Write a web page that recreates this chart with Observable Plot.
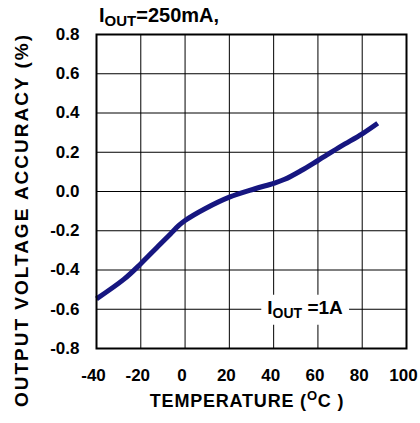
<!DOCTYPE html>
<html>
<head>
<meta charset="utf-8">
<script src="https://cdn.jsdelivr.net/npm/d3@7"></script>
<script src="https://cdn.jsdelivr.net/npm/@observablehq/plot@0.6"></script>
<style>
  html, body { margin: 0; padding: 0; background: #fff; }
  svg { display: block; }
</style>
</head>
<body>
<div id="chart"></div>
<script>
const temps  = [-40, -27.7, -20, -12.6, -6.6, -2.8, 0, 9, 20, 31.6, 40, 45, 52.5, 60, 70.5, 80, 87];
const values = [-0.547, -0.448, -0.368, -0.284, -0.216, -0.173, -0.148, -0.088, -0.029, 0.014, 0.042, 0.062, 0.107, 0.158, 0.231, 0.294, 0.348];
const xTicks = [-40, -20, 0, 20, 40, 60, 80, 100];
const yTicks = [-0.8, -0.6, -0.4, -0.2, 0, 0.2, 0.4, 0.6, 0.8];
const titleMain = "I", titleSub = "OUT", titleRest = "=250mA,";
const curveLabel = {x: 54.4, y: -0.6, main: "I", sub: "OUT", rest: " =1A"};
const xLabel = {main: "TEMPERATURE (", sup: "O", rest: "C )"};
const yLabel = "OUTPUT VOLTAGE ACCURACY (%)";

const data = temps.map((t, i) => ({t, v: values[i]}));
const FONT = "'Liberation Sans', Arial, sans-serif";

const plot = Plot.plot({
  width: 420,
  height: 423,
  marginLeft: 96,
  marginRight: 14,
  marginTop: 34,
  marginBottom: 75,
  style: {fontFamily: FONT, fontSize: "17px", fontWeight: "bold", color: "black", background: "white"},
  x: {domain: [-40, 100], ticks: xTicks},
  y: {domain: [-0.8, 0.8], ticks: yTicks},
  marks: [
    Plot.gridX(xTicks, {stroke: "black", strokeOpacity: 1, strokeWidth: 1}),
    Plot.gridY(yTicks, {stroke: "black", strokeOpacity: 1, strokeWidth: 1}),
    Plot.axisX(xTicks, {tickSize: 0, tickPadding: 20, tickFormat: d => String(d), label: null, dx: -3}),
    Plot.axisY(yTicks, {tickSize: 0, tickPadding: 17, tickFormat: d => d.toFixed(1), label: null}),
    Plot.line(data, {x: "t", y: "v", stroke: "#161680", strokeWidth: 5, curve: "catmull-rom", strokeLinecap: "butt"}),
    Plot.frame({stroke: "black", strokeWidth: 2})
  ]
});

document.getElementById("chart").appendChild(plot);
const svg = d3.select(plot);
const sx = plot.scale("x"), sy = plot.scale("y");

function subText(g, x, y, main, sub, rest, size, subSize, anchor) {
  const t = g.append("text").attr("x", x).attr("y", y)
    .attr("font-family", FONT).attr("font-weight", "bold").attr("font-size", size)
    .attr("fill", "black").attr("text-anchor", anchor || "start");
  t.append("tspan").text(main);
  t.append("tspan").attr("font-size", subSize).attr("dy", 4).text(sub);
  t.append("tspan").attr("dy", -4).text(rest);
  return t;
}

// title
subText(svg, 99, 22, titleMain, titleSub, titleRest, 20, 15);

// curve label with white box
const lg = svg.append("g");
const lt = subText(lg, sx.apply(curveLabel.x), sy.apply(curveLabel.y) + 5, curveLabel.main, curveLabel.sub, curveLabel.rest, 19, 14, "middle");
const bb = lt.node().getBBox();
lg.insert("rect", "text").attr("x", bb.x - 6).attr("y", bb.y - 2).attr("width", bb.width + 12).attr("height", bb.height + 6).attr("fill", "white");

// x label
const xt = svg.append("text").attr("x", 247).attr("y", 407)
  .attr("font-family", FONT).attr("font-weight", "bold").attr("font-size", 18)
  .attr("letter-spacing", 0.8).attr("text-anchor", "middle").attr("fill", "black");
xt.append("tspan").text(xLabel.main);
xt.append("tspan").attr("font-size", 13).attr("dy", -7).text(xLabel.sup);
xt.append("tspan").attr("dy", 7).text(xLabel.rest);

// y label
svg.append("text").attr("transform", "translate(28,220) rotate(-90)")
  .attr("font-family", FONT).attr("font-weight", "bold").attr("font-size", 19)
  .attr("letter-spacing", 2).attr("text-anchor", "middle").attr("fill", "black")
  .text(yLabel);
</script>
</body>
</html>
